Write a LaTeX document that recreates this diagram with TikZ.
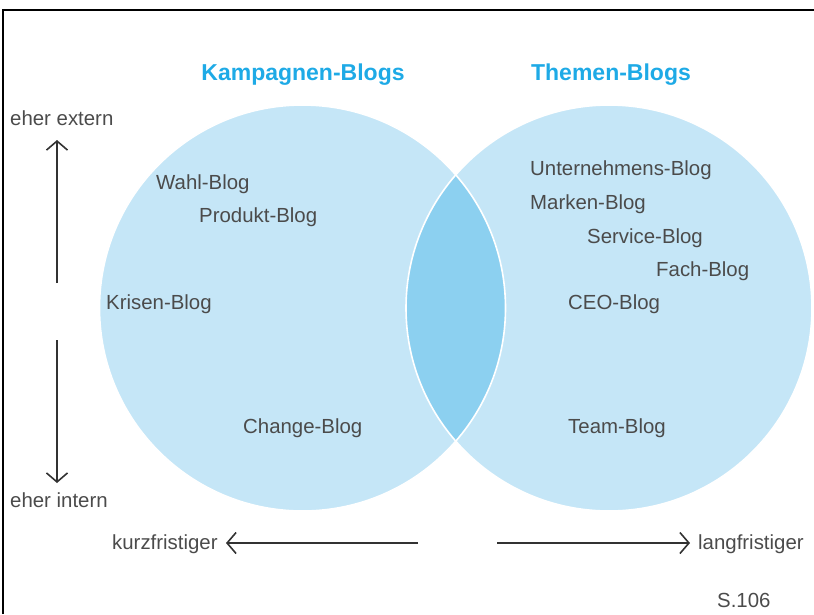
\documentclass[tikz,border=0pt]{standalone}
\usepackage{fontspec}
\setmainfont{Liberation Sans}
\usetikzlibrary{arrows.meta}
\definecolor{circblue}{RGB}{197,230,247}
\definecolor{lensblue}{RGB}{140,208,240}
\definecolor{titlecyan}{RGB}{30,170,230}
\definecolor{txtgray}{RGB}{75,75,75}
\definecolor{arrgray}{RGB}{50,50,50}
\tikzset{
  lbl/.style={anchor=west, inner sep=0pt, text=txtgray, font=\fontsize{20.4}{22}\selectfont, text height=0.72em, text depth=0.21em, yshift=-5pt},
  ttl/.style={inner sep=0pt, text=titlecyan, font=\fontsize{23}{25}\selectfont\bfseries, text height=0.72em, text depth=0.21em, yshift=-5pt},
  axis/.style={draw=arrgray, line width=1.6pt, -{Straight Barb[length=9pt,width=21pt,line width=1.6pt]}},
  circ/.style={draw=white, line width=1.6pt}
}
\begin{document}
\begin{tikzpicture}[x=1pt,y=-1pt]
\useasboundingbox (0,0) rectangle (814,614);
% frame
\draw[line width=1.5pt, black] (3,614) -- (3,10) -- (814,10);
% circles
\fill[circblue] (302.5,308) circle (203);
\fill[circblue] (609,308) circle (203);
\begin{scope}
  \clip (302.5,308) circle (203);
  \fill[lensblue] (609,308) circle (203);
\end{scope}
\draw[circ] (302.5,308) circle (203);
\draw[circ] (609,308) circle (203);
% titles
\node[ttl] (tk) at (303,73) {Kampagnen-Blogs};
\node[ttl] (tt) at (611,73) {Themen-Blogs};
% axes labels
\node[lbl] (ext) at (10,118) {eher extern};
\node[lbl] (int) at (10,500) {eher intern};
\node[lbl] (kurz) at (112,542) {kurzfristiger};
\node[lbl] (lang) at (698,542) {langfristiger};
\node[lbl] (page) at (717,600) {S.106};
% arrows
\coordinate (u0) at (57,283);
\coordinate (u1) at (57,140);
\coordinate (d0) at (57,340);
\coordinate (d1) at (57,483);
\coordinate (l0) at (418,543);
\coordinate (l1) at (226,543);
\coordinate (r0) at (497,543);
\coordinate (r1) at (690,543);
\draw[axis] (u0) -- (u1);
\draw[axis] (d0) -- (d1);
\draw[axis] (l0) -- (l1);
\draw[axis] (r0) -- (r1);
% blog labels
\node[lbl] (wahl) at (156,182) {Wahl-Blog};
\node[lbl] (prod) at (199,215) {Produkt-Blog};
\node[lbl] (kris) at (106,302) {Krisen-Blog};
\node[lbl] (chg) at (243,426) {Change-Blog};
\node[lbl] (unt) at (530,168) {Unternehmens-Blog};
\node[lbl] (mark) at (530,202) {Marken-Blog};
\node[lbl] (serv) at (587,236) {Service-Blog};
\node[lbl] (fach) at (656,269) {Fach-Blog};
\node[lbl] (ceo) at (568,302) {CEO-Blog};
\node[lbl] (team) at (568,426) {Team-Blog};
\end{tikzpicture}
\end{document}
